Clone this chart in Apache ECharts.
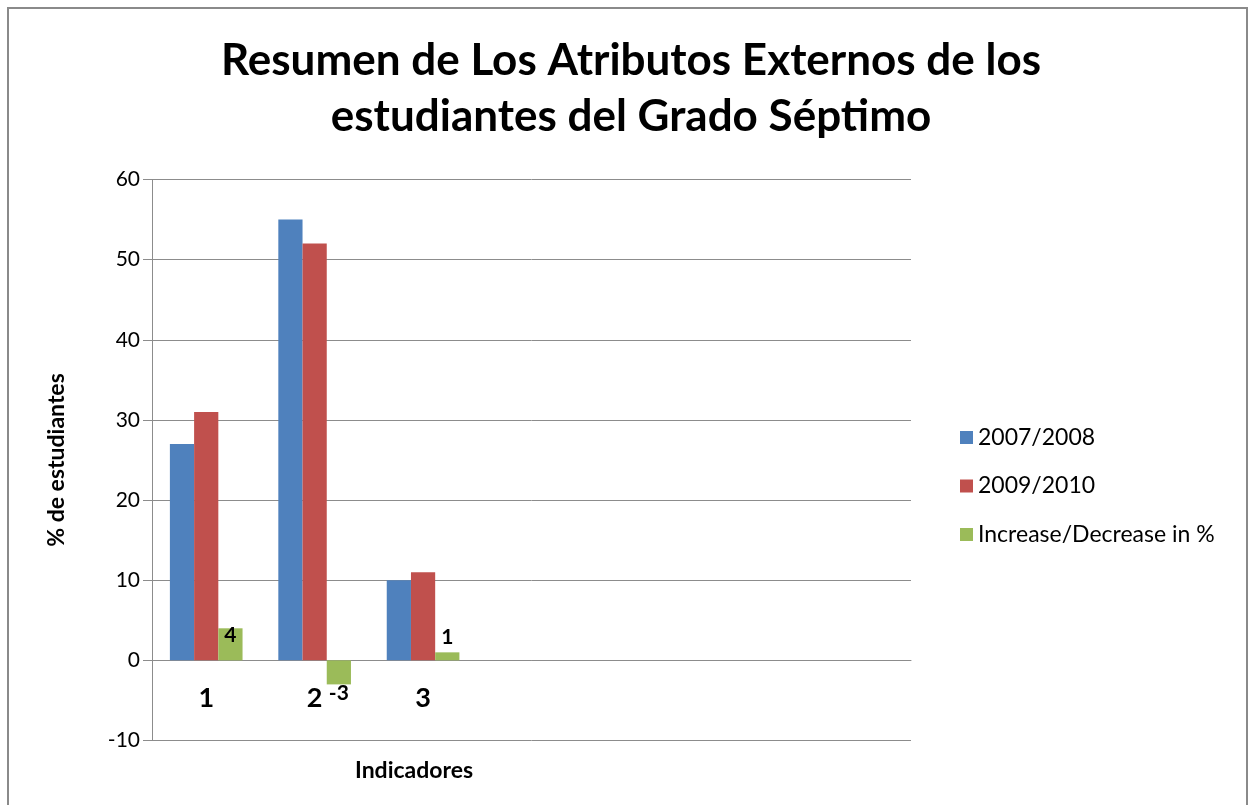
<!DOCTYPE html>
<html>
<head>
<meta charset="utf-8">
<script src="https://cdn.jsdelivr.net/npm/echarts@6/dist/echarts.min.js"></script>
<style>
  html, body { margin: 0; padding: 0; background: #fff; }
  #chart { width: 1255px; height: 805px; }
</style>
</head>
<body>
<div id="chart"></div>
<script>
// datos del grafico
const indicadores = ['1', '2', '3'];
const slots = 7; // Excel deja 4 categorias vacias a la derecha
const serie2007 = [27, 55, 10];
const serie2009 = [31, 52, 11];
const cambio = [4, -3, 1];
const yTicks = { min: -10, max: 60, step: 10 };

const FONT = 'Lato';
const cats = indicadores.concat(Array(slots - indicadores.length).fill(''));

// etiquetas de la serie verde, igual que en la hoja
const cambioData = cambio.map((v, i) => {
  if (v < 0) return { value: v, label: { position: 'bottom', distance: 0, offset: [0, -2] } };
  if (i === 0) return { value: v, label: { position: 'top', offset: [0, 22] } };
  return v;
});

const chart = echarts.init(document.getElementById('chart'));
chart.setOption({
  animation: false,
  textStyle: { fontFamily: FONT },
  title: [
    {
      text: 'Resumen de Los Atributos Externos de los\nestudiantes del Grado Séptimo',
      left: 631, top: 33, padding: 0,
      textAlign: 'center',
      textStyle: { fontFamily: FONT, fontSize: 44, fontWeight: 'bold', color: '#000', lineHeight: 56 }
    },
    {
      text: 'Indicadores', left: 355, top: 759, padding: 0,
      textStyle: { fontFamily: FONT, fontSize: 23, fontWeight: 'bold', color: '#000' }
    }
  ],
  legend: {
    orient: 'vertical', left: 955, top: 421,
    itemWidth: 13, itemHeight: 13, itemGap: 25.5,
    icon: 'rect',
    textStyle: { fontFamily: FONT, fontSize: 23, color: '#000', lineHeight: 22 }
  },
  grid: { left: 152, right: 344, top: 179.5, bottom: 64.5 },
  xAxis: {
    type: 'category', data: cats,
    offset: -80,
    axisLine: { onZero: false, lineStyle: { color: '#8c8c8c', width: 1 } },
    axisTick: { show: false },
    axisLabel: { margin: 24, fontSize: 27, fontWeight: 'bold', color: '#000', fontFamily: FONT }
  },
  yAxis: {
    type: 'value', min: yTicks.min, max: yTicks.max, interval: yTicks.step,
    name: '% de estudiantes', nameLocation: 'middle', nameGap: 84,
    nameTextStyle: { fontSize: 23, fontWeight: 'bold', color: '#000', fontFamily: FONT },
    axisLine: { show: true, lineStyle: { color: '#8c8c8c', width: 1 } },
    axisTick: { show: true, inside: false, length: 9, lineStyle: { color: '#8c8c8c' } },
    axisLabel: { margin: 12, fontSize: 21, color: '#000', fontFamily: FONT },
    splitLine: { lineStyle: { color: '#8c8c8c', width: 1 } }
  },
  graphic: [{
    type: 'rect', silent: true,
    shape: { x: 8, y: 8, width: 1239, height: 830 },
    style: { fill: 'none', stroke: '#8a8a8a', lineWidth: 2 }
  }],
  series: [
    {
      name: '2007/2008', type: 'bar', data: serie2007,
      barGap: '0%', barCategoryGap: '33%',
      itemStyle: { color: '#4F81BD' }
    },
    {
      name: '2009/2010', type: 'bar', data: serie2009,
      itemStyle: { color: '#C0504D' }
    },
    {
      name: 'Increase/Decrease in %', type: 'bar', data: cambioData,
      itemStyle: { color: '#9BBB59' },
      label: {
        show: true, position: 'top', distance: 5,
        fontSize: 21, fontWeight: 'bold', color: '#000', fontFamily: FONT
      }
    }
  ]
});
</script>
</body>
</html>
